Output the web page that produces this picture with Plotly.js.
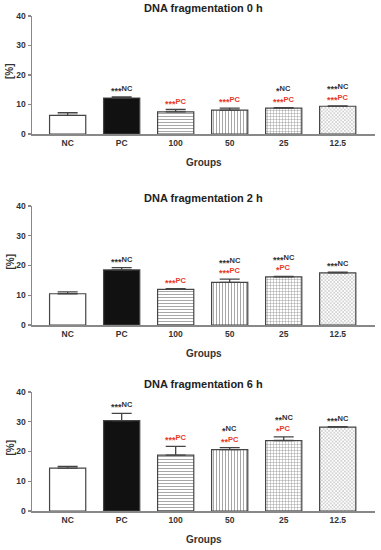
<!DOCTYPE html>
<html>
<head>
<meta charset="utf-8">
<script src="https://cdn.plot.ly/plotly-3.0.1.min.js"></script>
<style>
html,body{margin:0;padding:0;background:#fff;}
#chart{width:381px;height:550px;}
</style>
</head>
<body>
<div id="chart"></div>
<script>
// ---- data ----
const groups = ['NC', 'PC', '100', '50', '25', '12.5'];
const panelTitles = ['DNA fragmentation 0 h', 'DNA fragmentation 2 h', 'DNA fragmentation 6 h'];

const frag0h = [6.3, 12.2, 7.5, 8.1, 8.8, 9.4];
const err0h  = [0.9, 0.35, 0.8, 0.7, 0.15, 0.15];
const frag2h = [10.5, 18.5, 12.0, 14.3, 16.2, 17.5];
const err2h  = [0.65, 0.8, 0.25, 1.1, 0.15, 0.25];
const frag6h = [14.4, 30.4, 18.8, 20.6, 23.7, 28.2];
const err6h  = [0.6, 2.4, 2.9, 0.7, 1.2, 0.15];

// significance vs NC (black) and vs PC (red)
const sigNC0h = ['', '***', '', '', '*', '***'];
const sigPC0h = ['', '', '***', '***', '***', '***'];
const sigNC2h = ['', '***', '', '***', '***', '***'];
const sigPC2h = ['', '', '***', '***', '*', ''];
const sigNC6h = ['', '***', '', '*', '**', '***'];
const sigPC6h = ['', '', '***', '**', '*', ''];

const yTicks = [0, 10, 20, 30, 40];

// ---- styling ----
const FONT = 'Liberation Sans, Arial, Helvetica, sans-serif';
const PAT_FG = '#8a8a8a';
const barColors = ['#ffffff', '#111111', '#ffffff', '#ffffff', '#ffffff', '#ffffff'];
const patShapes = ['', '', '-', '|', '+', 'x'];
const patSizes  = [4, 4, 3, 3, 3, 2.5];
const patFg     = groups.map(() => PAT_FG);

const series = [
  {v: frag0h, e: err0h, nc: sigNC0h, pc: sigPC0h},
  {v: frag2h, e: err2h, nc: sigNC2h, pc: sigPC2h},
  {v: frag6h, e: err6h, nc: sigNC6h, pc: sigPC6h}
];

const xDom = [32/381, 375/381];
const yDoms = [[416/550, 534/550], [225/550, 344/550], [39/550, 158/550]];

const traces = [];
const layout = {
  width: 381, height: 550,
  margin: {l: 0, r: 0, t: 0, b: 0},
  paper_bgcolor: '#fff', plot_bgcolor: '#fff',
  showlegend: false,
  font: {family: FONT, color: '#333'},
  annotations: [],
  bargap: 0.33
};

const star = (s) => s ? '<span style="font-size:9px;baseline-shift:-2.5px">' + s + '</span>' : '';

series.forEach((s, i) => {
  const xa = i === 0 ? 'x' : 'x' + (i + 1);
  const ya = i === 0 ? 'y' : 'y' + (i + 1);
  traces.push({
    type: 'bar', x: groups, y: s.v, xaxis: xa, yaxis: ya,
    marker: {
      color: barColors,
      line: {color: '#444', width: 1.2},
      pattern: {shape: patShapes, size: patSizes, solidity: 0.25,
                fgcolor: patFg, bgcolor: barColors, fillmode: 'replace'}
    },
    error_y: {type: 'data', array: s.e, symmetric: false, arrayminus: s.e.map(() => 0),
              color: '#444', thickness: 1.3, width: 10},
    hoverinfo: 'skip'
  });
  const xk = i === 0 ? 'xaxis' : 'xaxis' + (i + 1);
  const yk = i === 0 ? 'yaxis' : 'yaxis' + (i + 1);
  layout[xk] = {
    domain: xDom, anchor: ya, range: [-0.66, 5.69], type: 'category',
    showline: true, linecolor: '#888', linewidth: 1.5, ticks: '', showgrid: false, zeroline: false,
    tickfont: {size: 8.5, weight: 'bold', color: '#333', family: FONT}, fixedrange: true
  };
  layout[yk] = {
    domain: yDoms[i], anchor: xa, range: [0, 40], tickvals: yTicks,
    showline: true, linecolor: '#888', linewidth: 1.5, ticks: 'outside', ticklen: 3, tickwidth: 1.3,
    tickcolor: '#888', showgrid: false, zeroline: false,
    tickfont: {size: 8.5, weight: 'bold', color: '#333', family: FONT}, fixedrange: true
  };
  const top = yDoms[i][1], bot = yDoms[i][0];
  layout.annotations.push({xref: 'paper', yref: 'paper', x: (xDom[0] + xDom[1]) / 2, y: top + 8/550,
    text: panelTitles[i], showarrow: false, xanchor: 'center', yanchor: 'middle',
    font: {size: 11, weight: 'bold', color: '#222', family: FONT}});
  layout.annotations.push({xref: 'paper', yref: 'paper', x: (xDom[0] + xDom[1]) / 2, y: bot - 28/550,
    text: 'Groups', showarrow: false, xanchor: 'center', yanchor: 'middle',
    font: {size: 10, weight: 'bold', color: '#333', family: FONT}});
  layout.annotations.push({xref: 'paper', yref: 'paper', x: 10/381, y: (top + bot) / 2 + 4/550,
    text: '[%]', showarrow: false, textangle: -90, xanchor: 'center', yanchor: 'middle',
    font: {size: 10, weight: 'bold', color: '#333', family: FONT}});
  groups.forEach((g, j) => {
    const capY = s.v[j] + s.e[j];
    let shift = 7;
    if (s.pc[j]) {
      layout.annotations.push({xref: xa, yref: ya, x: j, y: capY, yshift: shift,
        text: star(s.pc[j]) + 'PC', showarrow: false, xanchor: 'center', yanchor: 'middle',
        font: {size: 7.5, weight: 'bold', color: '#e8392b', family: FONT}});
      shift += 10.5;
    }
    if (s.nc[j]) {
      layout.annotations.push({xref: xa, yref: ya, x: j, y: capY, yshift: shift,
        text: star(s.nc[j]) + 'NC', showarrow: false, xanchor: 'center', yanchor: 'middle',
        font: {size: 7.5, weight: 'bold', color: '#333', family: FONT}});
    }
  });
});

Plotly.newPlot('chart', traces, layout, {staticPlot: true, displayModeBar: false}).then(() => {
  // make sure pattern strokes are the grey hatch colour (not white-on-white)
  document.querySelectorAll('#chart pattern path').forEach(p => {
    p.setAttribute('stroke', PAT_FG);
    p.style.stroke = PAT_FG;
  });
});
</script>
</body>
</html>
